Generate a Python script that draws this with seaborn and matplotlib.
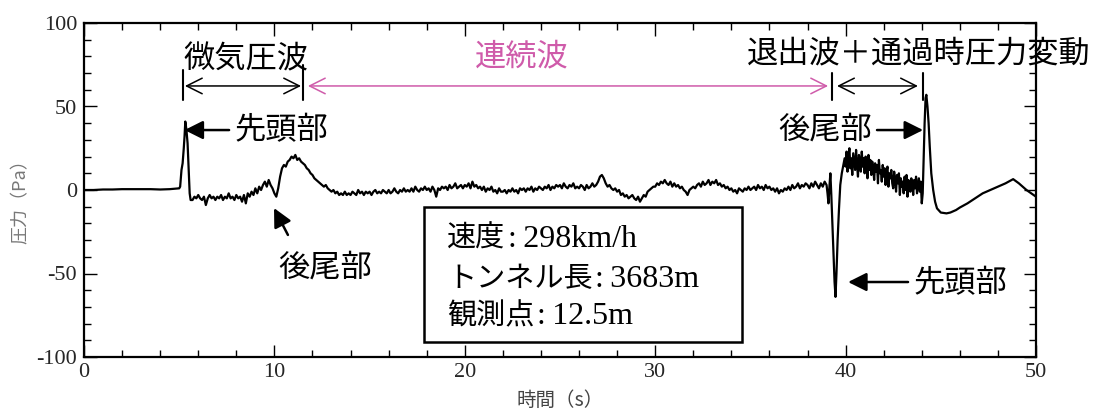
import numpy as np
import pandas as pd
import matplotlib
matplotlib.use("Agg")
import matplotlib.pyplot as plt
from matplotlib.patches import Rectangle
import seaborn as sns

# ---------------- data: pressure trace (Pa) versus time (s) ----------------
# quiet section before the train enters
t_pre = [0.0, 0.5, 1.0, 1.5, 2.0, 2.5, 3.0, 3.5, 4.0, 4.5, 5.0]
p_pre = [0, 0, 0.3, 0.3, 0.5, 0.5, 0.5, 0.5, 0.3, 0.5, 1]

# nose entry pulse (micro-pressure wave)
t_nose_in = [5.05, 5.12, 5.18, 5.24, 5.28, 5.32, 5.38, 5.44, 5.50, 5.55, 5.60]
p_nose_in = [2, 12, 16, 25, 32, 41, 36, 28, 12, -2, -6]

# 5.7 s .. 12.3 s, 0.1 s sampling
p_seg_b = [
    -6, -4, -5, -3, -5, -6, -4, -9, -5, -3, -5, -4, -6,
    -4, -5, -3, -6, -4, -5, -2, -5, -4, -6,
    -3, -5, -4, -7, -3, -8, -2, -4, -1, -3,
    1, -2, 2, 0, 3, 5, 2, 6, 3, 1,
    -2, -4, 1, 8, 13, 15, 14, 17, 18, 20,
    19, 21, 18, 19, 17, 16, 15, 13, 12, 10,
    9, 7, 6, 5,
]

# 12.4 s .. 39.0 s, 0.1 s sampling (continuous wave section)
p_seg_c = [
    4, 3, 2, 3, 1, 0,
    -1, 0, -2, -1, -3, -2, -3, -1, -3, -2,
    -3, -1, -2, -3, 0, -2, -1, -3, -1, -2,
    -1, -3, -1, 0, -2, -1, -2, 0, -1, -2,
    0, -2, -1, 1, -1, -2, 0, -1, 1, -1,
    0, -1, 1, -1, 2, 0, -1, 1, 0, 2,
    0, 1, -1, 2, 0, -4, 1, 0, 2, 1,
    2, 0, 3, 1, 2, 4, 1, 2, 3, 1,
    3, 2, 4, 1, 5, 2, 3, 1, 2, 0,
    2, -1, 1, 0, 2, -1, 0, -2, 1, -1,
    -1, 0, -2, 0, -1, 1, -1, 0, -2, 1,
    0, 1, -1, 1, 0, 2, -1, 1, 0, 2,
    1, 0, 2, 1, 3, 0, 2, 1, 3, 2,
    3, 1, 4, 2, 1, 3, 2, 4, 1, 2,
    1, 3, 2, 0, 3, 1, 2, 4, 2, 3,
    5, 8, 9, 7, 4, 2, 3, 1, 0, 1,
    -1, 0, -3, -2, -4, -3, -5, -4, -3, -5,
    -6, -4, -7, -5, -3, -4, -1, 0, 1, 2,
    2, 4, 3, 5, 4, 6, 4, 3, 5, 2,
    4, 2, 3, 1, 2, 0, -1, -3, 0, 1,
    2, 1, 3, 4, 2, 5, 3, 4, 6, 3,
    5, 4, 6, 3, 4, 2, 3, 1, 2, 0,
    1, -1, 0, -2, 1, 0, -1, 1, 0, 2,
    0, 1, 2, 0, 3, 1, 2, 0, 3, 1,
    2, 0, 1, -1, 1, -2, 0, -1, 1, 0,
    2, 0, 3, 1, 2, 4, 1, 3, 2, 4,
    3, 1, 4, 2, 5, 3, 1, 4, 2, 5,
    3,
]

# nose arrival at the observation point (negative pulse)
t_nose_out = [39.05, 39.10, 39.15, 39.20, 39.25, 39.30, 39.36, 39.42, 39.47,
              39.52, 39.58, 39.65, 39.72, 39.80, 39.90, 39.95]
p_nose_out = [-2, -8, 2, 10, -3, -18, -35, -55, -64, -50, -30, -12, 3, 10, 16, 19]

# 40.0 s .. 43.95 s, 0.05 s sampling (train passing)
p_seg_d = [
    14, 23, 11, 20, 25, 13, 19, 9, 22, 17,
    12, 24, 15, 8, 21, 18, 11, 23, 14, 19,
    10, 20, 16, 7, 21, 12, 18, 9, 17, 13,
    6, 16, 11, 15, 4, 18, 10, 12, 5, 15,
    8, 13, 3, 11, 14, 2, 10, 7, 12, 4,
    1, 11, 6, -1, 9, 4, 10, -3, 7, 2,
    5, -2, 8, 0, 9, -4, 6, 3, -1, 7,
    4, -3, 6, 1, 8, -2, 3, 7, -1, 5,
]

# tail passage and recovery
t_tail = [44.00, 44.05, 44.10, 44.15, 44.20, 44.24, 44.30, 44.36, 44.42, 44.50,
          44.60, 44.70, 44.80, 45.00, 45.30, 45.50, 45.80, 46.00, 46.40, 46.80,
          47.20, 47.60, 48.00, 48.40, 48.80, 49.10, 49.50, 50.00]
p_tail = [-8, -2, 20, 40, 55, 57, 50, 40, 26, 10,
          0, -7, -11, -13.5, -14, -13.5, -12, -10.5, -8, -5,
          -2, 0, 2, 4, 6.5, 4, 0, -4]

t_seg_b = np.round(5.7 + 0.1 * np.arange(len(p_seg_b)), 3)
t_seg_c = np.round(12.4 + 0.1 * np.arange(len(p_seg_c)), 3)
t_seg_d = np.round(40.0 + 0.05 * np.arange(len(p_seg_d)), 3)

trace = pd.DataFrame({
    "time": np.concatenate([t_pre, t_nose_in, t_seg_b, t_seg_c,
                            t_nose_out, t_seg_d, t_tail]),
    "pressure": np.concatenate([p_pre, p_nose_in, p_seg_b, p_seg_c,
                                p_nose_out, p_seg_d, p_tail]),
})

x_ticks = [0, 10, 20, 30, 40, 50]
y_ticks = [-100, -50, 0, 50, 100]
y_tick_labels = ["-100", "-50", "0", "50", "100"]

info_names = ["速度", "トンネル長", "観測点"]
info_values = [":\u2009298km/h", ":\u20093683m", ":\u200912.5m"]

# ---------------- styling ----------------
sns.set_theme(style="ticks")
CJK = ["Noto Sans CJK JP", "DejaVu Sans"]
SERIF = ["Liberation Serif", "DejaVu Serif"]
plt.rcParams["font.family"] = CJK

fig = plt.figure(figsize=(10.99, 4.12), dpi=100)
ax = fig.add_axes([84 / 1099, 1 - 357 / 412, (1036 - 84) / 1099, (357 - 23) / 412])

sns.lineplot(data=trace, x="time", y="pressure", ax=ax, color="black",
             linewidth=1.6, sort=False, estimator=None)

ax.set_xlim(0, 50)
ax.set_ylim(-100, 100)
ax.set_xticks(x_ticks)
ax.set_xticks(np.arange(0, 51, 2), minor=True)
ax.set_yticks(y_ticks)
ax.set_yticks(np.arange(-100, 101, 10), minor=True)
ax.set_xticklabels([str(v) for v in x_ticks], fontfamily=SERIF, fontsize=16)
ax.set_yticklabels(y_tick_labels, fontfamily=SERIF, fontsize=16)
ax.tick_params(which="both", direction="in", top=True, right=True,
               color="black", width=1.0)
ax.tick_params(which="major", length=9)
ax.tick_params(which="minor", length=5)
ax.tick_params(axis="x", which="major", pad=4)
ax.tick_params(axis="y", which="major", pad=5)
for side, sp in ax.spines.items():
    sp.set_color("black")
    sp.set_linewidth(1.6)

ax.set_xlabel("時間（s）", fontsize=14, color="#444444")
ax.xaxis.set_label_coords(0.5, -0.1)
ax.set_ylabel("圧力（Pa）", fontsize=13, color="#777777", va="center")
ax.yaxis.set_label_coords(-0.067, 0.48)

# ---------------- annotations ----------------
MAG = "#CF5BAA"
FS = 22.5
big = dict(fontsize=FS, family=CJK, color="black", va="center")

ax.text(8.53, 78, "微気圧波", ha="center", **big)
ax.text(23.0, 80, "連続波", ha="center", fontsize=FS, family=CJK, color=MAG, va="center")
ax.text(34.8, 82, "退出波＋通過時圧力変動", ha="left", clip_on=False, **big)

span_y = 62.3
open_arrow = dict(arrowstyle="<->", mutation_scale=28, lw=1.1, shrinkA=0, shrinkB=0)
ax.annotate("", xy=(5.3, span_y), xytext=(11.4, span_y),
            arrowprops=dict(color="black", **open_arrow))
ax.annotate("", xy=(11.76, span_y), xytext=(39.08, span_y),
            arrowprops=dict(color=MAG, **open_arrow))
ax.annotate("", xy=(39.55, span_y), xytext=(43.8, span_y),
            arrowprops=dict(color="black", **open_arrow))
for xb, y0, y1 in [(5.2, 54, 72), (11.5, 54, 75), (39.29, 54, 70), (44.07, 54, 70)]:
    ax.plot([xb, xb], [y0, y1], color="black", lw=1.5)

solid_arrow = dict(arrowstyle="-|>", mutation_scale=28, lw=1.8, color="black",
                   shrinkA=0, shrinkB=0)
ax.annotate("", xy=(5.28, 35.9), xytext=(7.62, 35.9), arrowprops=solid_arrow)
ax.text(7.9, 35.9, "先頭部", ha="left", **big)

ax.annotate("", xy=(9.98, -10.8), xytext=(10.71, -26.9), arrowprops=solid_arrow)
ax.text(10.2, -46.7, "後尾部", ha="left", **big)

ax.annotate("", xy=(44.07, 35.9), xytext=(41.65, 35.9), arrowprops=solid_arrow)
ax.text(36.45, 35.9, "後尾部", ha="left", **big)

ax.annotate("", xy=(40.13, -55.1), xytext=(43.28, -55.1), arrowprops=solid_arrow)
ax.text(43.55, -55.7, "先頭部", ha="left", **big)

# info box
ax.add_patch(Rectangle((17.86, -91.0), 34.56 - 17.86, 80.8, fill=False,
                       edgecolor="black", linewidth=1.8, zorder=3))
for name, value, yb in zip(info_names, info_values, [-34.1, -58.1, -80.2]):
    t1 = ax.text(19.07, yb, name, ha="left", va="baseline", fontsize=21,
                 family=CJK, color="black")
    ax.annotate(value, xy=(1, yb), xycoords=(t1, "data"), xytext=(2, 0),
                textcoords="offset points", ha="left", va="baseline",
                fontsize=23, family=SERIF, color="black")

fig.savefig("out.png", dpi=100)
